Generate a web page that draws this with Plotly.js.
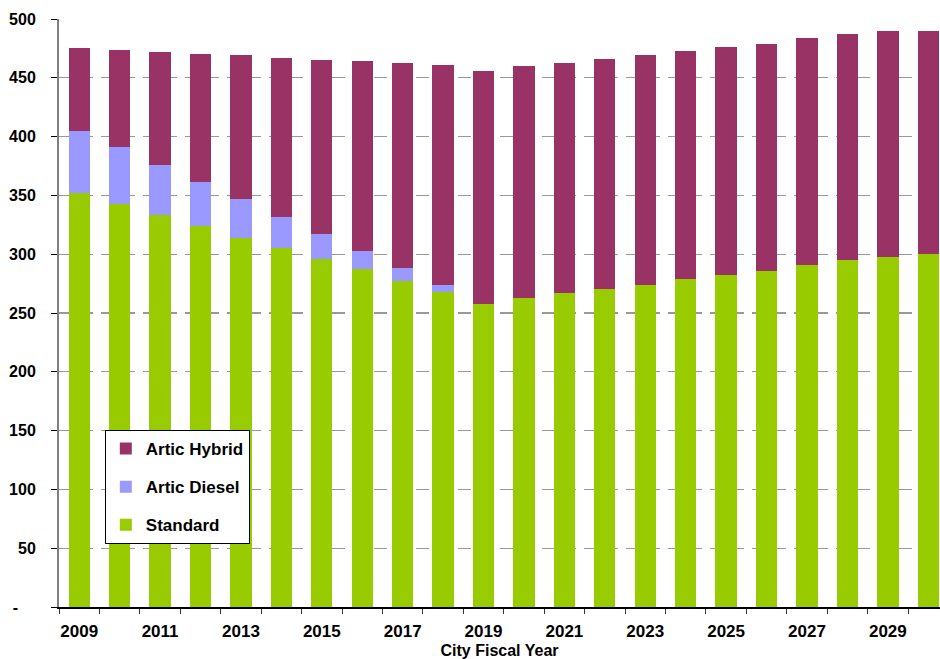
<!DOCTYPE html>
<html>
<head>
<meta charset="utf-8">
<script src="https://cdn.plot.ly/plotly-3.0.1.min.js"></script>
<style>html,body{margin:0;padding:0;background:#fff;}#chart{width:940px;height:659px;}</style>
</head>
<body>
<div id="chart"></div>
<script>
const years = ["2009","2010","2011","2012","2013","2014","2015","2016","2017","2018","2019","2020","2021","2022","2023","2024","2025","2026","2027","2028","2029","2030"];
const xTickText = ["2009","","2011","","2013","","2015","","2017","","2019","","2021","","2023","","2025","","2027","","2029",""];
const standard = [352,343,333,324,314,305,296,287,277,268,258,263,267,270,274,279,282,286,291,295,298,300];
const articDiesel = [53,48,43,37,33,27,21,16,11,6,0,0,0,0,0,0,0,0,0,0,0,0];
const articHybrid = [70,83,96,109,122,135,148,161,175,187,198,197,196,196,195,194,194,193,193,192,192,190];
const yTickVals = [0,50,100,150,200,250,300,350,400,450,500];
const yTickText = ["-\u00a0\u00a0\u00a0\u00a0","50","100","150","200","250","300","350","400","450","500"];

const font = "Arial, 'Liberation Sans', sans-serif";
const traces = [
  {type:"bar", name:"Standard", x:years, y:standard, marker:{color:"#99CC00"}, legendgroup:"s", legendrank:3},
  {type:"bar", name:"Artic Diesel", x:years, y:articDiesel, marker:{color:"#9999FF"}, legendgroup:"d", legendrank:2},
  {type:"bar", name:"Artic Hybrid", x:years, y:articHybrid, marker:{color:"#993366"}, legendgroup:"h", legendrank:1}
];
const layout = {
  width:940, height:659,
  margin:{l:59, r:0, t:19, b:52},
  paper_bgcolor:"#fff", plot_bgcolor:"#fff",
  barmode:"stack", bargap:0.473,
  font:{family:font, color:"#000"},
  showlegend:true,
  legend:{
    x:0.052, y:0.301, xanchor:"left", yanchor:"top",
    bgcolor:"#fff", bordercolor:"#000", borderwidth:1,
    font:{family:font, size:17, color:"#000", weight:"bold"},
    traceorder:"grouped", tracegroupgap:13
  },
  xaxis:{
    type:"category",
    range:[-0.5, 21.29],
    tickmode:"array", tickvals:years, ticktext:xTickText,
    tickson:"boundaries", tickangle:0,
    ticks:"outside", ticklen:5, tickcolor:"#333", tickwidth:1,
    tickfont:{family:font, size:17, weight:"bold", color:"#000"},
    ticklabelstandoff:8,
    showline:true, linecolor:"#000", linewidth:1.5,
    showgrid:false, zeroline:false, fixedrange:true,
    title:{text:"City Fiscal Year", font:{family:font, size:16, weight:"bold", color:"#000"}, standoff:6}
  },
  yaxis:{
    range:[0,500],
    tickmode:"array", tickvals:yTickVals, ticktext:yTickText,
    ticks:"outside", ticklen:6, tickcolor:"#000", tickwidth:1,
    tickfont:{family:font, size:16, weight:"bold", color:"#000"},
    ticklabelstandoff:12,
    showline:true, linecolor:"#808080", linewidth:2,
    showgrid:true, gridcolor:"#999999", gridwidth:1.2, griddash:"13px,8px",
    zeroline:false, fixedrange:true
  }
};
Plotly.newPlot("chart", traces, layout, {displayModeBar:false, staticPlot:true});
</script>
</body>
</html>
